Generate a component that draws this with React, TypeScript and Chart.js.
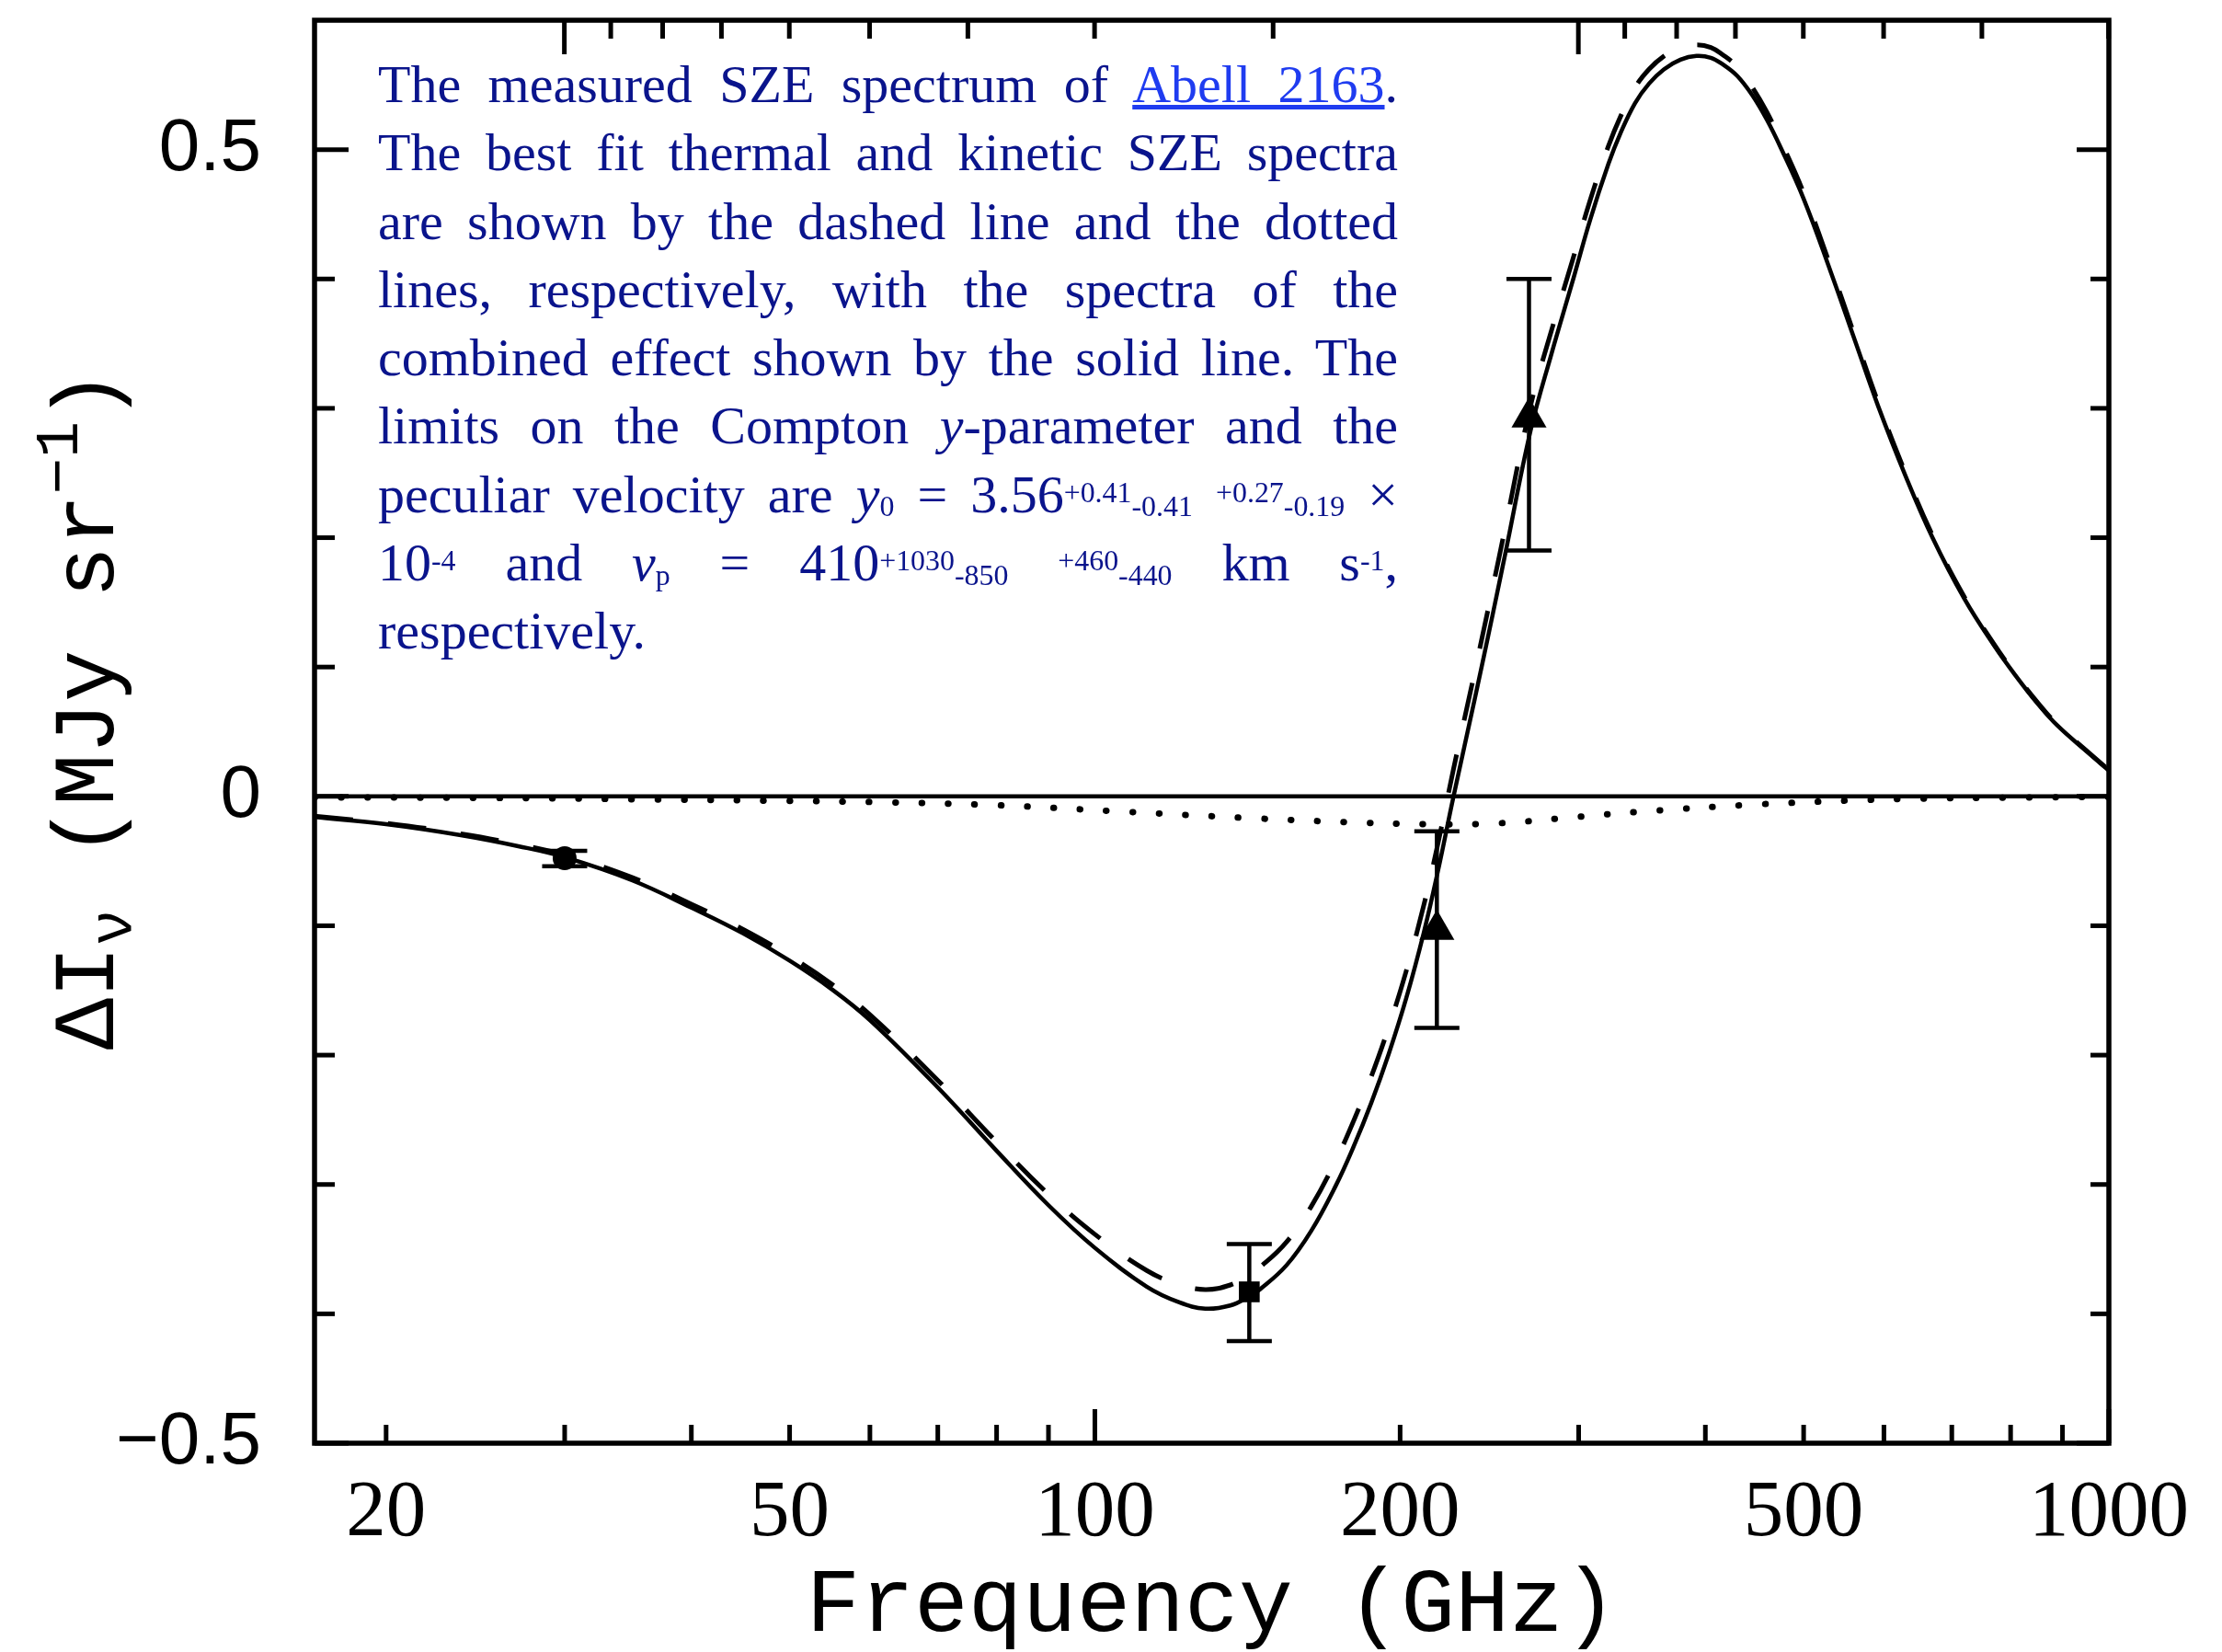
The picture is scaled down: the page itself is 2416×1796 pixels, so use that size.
import React, { useEffect, useRef } from 'react';
import { Chart, registerables } from 'chart.js';

Chart.register(...registerables);

// ---------- data ----------
// combined (thermal + kinetic) SZE spectrum, solid line
const combinedFreq = [17, 20, 23.7, 27, 30, 35, 40, 45, 50, 55, 60, 70, 80, 90, 100, 112.5, 121, 128.5, 136, 141.6, 145.5, 154.5, 163.4, 172.8, 179.9, 187.3, 194.9, 202.8, 211.1, 217.9, 225.8, 236.9, 247, 254, 269, 282, 295.6, 308, 321, 330, 341, 352, 364, 378, 392, 405, 416, 430, 445, 460, 475, 500, 532, 562, 592, 630, 670, 720, 770, 808, 850, 889, 950, 1000];
const combinedVal = [-0.016, -0.0215, -0.03, -0.0385, -0.047, -0.065, -0.086, -0.106, -0.127, -0.149, -0.173, -0.225, -0.274, -0.316, -0.349, -0.379, -0.391, -0.396, -0.3935, -0.387, -0.381, -0.3625, -0.336, -0.301, -0.271, -0.237, -0.199, -0.156, -0.105, -0.058, 0.0, 0.075, 0.142, 0.188, 0.283, 0.342, 0.397, 0.446, 0.489, 0.513, 0.536, 0.551, 0.562, 0.5695, 0.5724, 0.571, 0.566, 0.557, 0.542, 0.523, 0.501, 0.462, 0.405, 0.352, 0.302, 0.248, 0.2, 0.153, 0.117, 0.094, 0.072, 0.055, 0.035, 0.02];

// best-fit thermal SZE spectrum, dashed line
const thermalFreq = [17, 20, 23.7, 27, 30, 35, 40, 45, 50, 55, 60, 70, 80, 90, 100, 112.5, 121, 128.5, 136, 141.6, 145.5, 154.5, 163.4, 172.8, 179.9, 187.3, 194.9, 202.8, 211.1, 217.9, 225.8, 236.9, 247, 254, 269, 282, 295.6, 308, 321, 330, 341, 352, 364, 378, 392, 405, 416, 430, 445, 460, 475, 500, 532, 562, 592, 630, 670, 720, 770, 808, 850, 889, 950, 1000];
const thermalVal = [-0.0153, -0.0207, -0.0289, -0.0371, -0.0453, -0.0628, -0.0833, -0.1029, -0.1235, -0.1451, -0.1687, -0.2195, -0.2672, -0.3075, -0.3385, -0.3665, -0.3772, -0.3812, -0.3777, -0.3705, -0.364, -0.3445, -0.3172, -0.2815, -0.2511, -0.2167, -0.1783, -0.135, -0.0838, -0.0367, 0.0213, 0.0961, 0.1627, 0.2083, 0.3022, 0.36, 0.4135, 0.4612, 0.5028, 0.5258, 0.548, 0.5621, 0.5722, 0.5788, 0.5809, 0.579, 0.5734, 0.5641, 0.5482, 0.5289, 0.5062, 0.4665, 0.4088, 0.3552, 0.3047, 0.2501, 0.2017, 0.1543, 0.118, 0.0949, 0.0728, 0.0557, 0.0355, 0.0204];

// best-fit kinetic SZE spectrum, dotted line
const kineticFreq = [17, 25, 35, 50, 62, 80, 105, 140, 176, 215, 250, 297, 350, 438, 550, 647, 800, 1000];
const kineticVal = [-0.0007, -0.0012, -0.0022, -0.0035, -0.0045, -0.0068, -0.0115, -0.0165, -0.0198, -0.0215, -0.0208, -0.016, -0.0115, -0.0067, -0.0033, -0.0018, -0.0009, -0.0004];

// measured points with error bars
const dataFreq = [30, 142, 217.4, 268];
const dataVal = [-0.0478, -0.383, -0.103, 0.293];
const dataErrLow = [-0.054, -0.421, -0.179, 0.19];
const dataErrHigh = [-0.042, -0.346, -0.027, 0.4];
const dataMarker = ['circle', 'rect', 'triangle', 'triangle'];

// axes
const xMin = 17;
const xMax = 1000;
const yMin = -0.5;
const yMax = 0.6;
const xTickValues = [20, 50, 100, 200, 500, 1000];
const xTickLabels = ['20', '50', '100', '200', '500', '1000'];
const yTickValues = [-0.5, 0, 0.5];
const yTickLabels = ['\u22120.5', '0', '0.5'];
const xMinorTicks = [20, 30, 40, 50, 60, 70, 80, 90, 200, 300, 400, 500, 600, 700, 800, 900];
const xMajorTicks = [100, 1000];
const wavelengthTicksMm = [10, 9, 8, 7, 6, 5, 4, 3, 2, 1, 0.9, 0.8, 0.7, 0.6, 0.5, 0.4, 0.3];
const wavelengthMajorMm = [10, 1];
const yMinorTicks = [-0.4, -0.3, -0.2, -0.1, 0.1, 0.2, 0.3, 0.4];
const yMajorTicks = [-0.5, 0, 0.5];
const zeroLineFreq = [17, 1000];
const zeroLineVal = [0, 0];

const xTitle = 'Frequency (GHz)';
const yTitleParts = [
  { text: '\u0394I', small: false, shift: 0 },
  { text: '\u03bd', small: true, shift: 19 },
  { text: ' (MJy sr', small: false, shift: 0 },
  { text: '\u22121', small: true, shift: -39 },
  { text: ')', small: false, shift: 0 },
];

const C_MM_GHZ = 299.79;

const W = 2416;
const H = 1796;
const AREA_LEFT = 342;
const AREA_TOP = 12;
const AREA_RIGHT = 2293;
const AREA_BOTTOM = 1569;

const MONO = '"Liberation Mono", "DejaVu Sans Mono", monospace';
const SERIF = '"Liberation Serif", "Times New Roman", serif';

const toPoints = (xs: number[], ys: number[]) => xs.map((x, i) => ({ x, y: ys[i] }));

const decorPlugin = {
  id: 'decor',
  afterDatasetsDraw(chart: any) {
    const { ctx } = chart;
    const xs = chart.scales.x;
    const ys = chart.scales.y;
    ctx.save();
    ctx.strokeStyle = '#000';
    ctx.lineWidth = 4.5;
    const cap = 24.5;
    dataFreq.forEach((f, i) => {
      const px = xs.getPixelForValue(f);
      const lo = ys.getPixelForValue(dataErrLow[i]);
      const hi = ys.getPixelForValue(dataErrHigh[i]);
      ctx.beginPath();
      ctx.moveTo(px, lo);
      ctx.lineTo(px, hi);
      ctx.moveTo(px - cap, lo);
      ctx.lineTo(px + cap, lo);
      ctx.moveTo(px - cap, hi);
      ctx.lineTo(px + cap, hi);
      ctx.stroke();
    });
    ctx.restore();
  },
  afterDraw(chart: any) {
    const { ctx, chartArea: a } = chart;
    const xs = chart.scales.x;
    const ys = chart.scales.y;
    ctx.save();
    ctx.strokeStyle = '#000';
    ctx.lineCap = 'butt';
    ctx.lineWidth = 5;
    const seg = (x1: number, y1: number, x2: number, y2: number) => {
      ctx.beginPath();
      ctx.moveTo(x1, y1);
      ctx.lineTo(x2, y2);
      ctx.stroke();
    };
    xMinorTicks.forEach((v) => {
      const px = xs.getPixelForValue(v);
      seg(px, a.bottom, px, a.bottom - 20);
    });
    xMajorTicks.forEach((v) => {
      const px = xs.getPixelForValue(v);
      seg(px, a.bottom, px, a.bottom - 37);
    });
    wavelengthTicksMm.forEach((l) => {
      const f = C_MM_GHZ / l;
      if (f < xMin || f > xMax) return;
      const px = xs.getPixelForValue(f);
      const len = wavelengthMajorMm.includes(l) ? 37 : 20;
      seg(px, a.top, px, a.top + len);
    });
    yMinorTicks.forEach((v) => {
      const py = ys.getPixelForValue(v);
      seg(a.left, py, a.left + 22, py);
      seg(a.right, py, a.right - 20, py);
    });
    yMajorTicks.forEach((v) => {
      const py = ys.getPixelForValue(v);
      seg(a.left, py, a.left + 37, py);
      seg(a.right, py, a.right - 35, py);
    });
    ctx.lineWidth = 5.5;
    ctx.strokeRect(a.left, a.top, a.right - a.left, a.bottom - a.top);

    // y axis title with subscript / superscript
    const bigFont = `94px ${MONO}`;
    const smallFont = `66px ${MONO}`;
    ctx.translate(123, (a.top + a.bottom) / 2 - 24);
    ctx.rotate(-Math.PI / 2);
    ctx.fillStyle = '#000';
    ctx.textBaseline = 'alphabetic';
    ctx.textAlign = 'left';
    let total = 0;
    const widths = yTitleParts.map((p) => {
      ctx.font = p.small ? smallFont : bigFont;
      const w = ctx.measureText(p.text).width;
      total += w;
      return w;
    });
    let cx = -total / 2;
    yTitleParts.forEach((p, i) => {
      ctx.font = p.small ? smallFont : bigFont;
      ctx.fillText(p.text, cx, p.shift);
      cx += widths[i];
    });
    ctx.restore();
  },
};

const Sup = ({ children }: { children: React.ReactNode }) => (
  <span style={{ fontSize: '0.55em', position: 'relative', top: '-0.34em', lineHeight: 0 }}>{children}</span>
);
const Sub = ({ children }: { children: React.ReactNode }) => (
  <span style={{ fontSize: '0.55em', position: 'relative', top: '0.14em', lineHeight: 0 }}>{children}</span>
);

const lineStyle: React.CSSProperties = { textAlign: 'justify', textAlignLast: 'justify' as any };

function Caption() {
  return (
    <div
      style={{
        position: 'absolute',
        left: 411,
        top: 55,
        width: 1109,
        fontFamily: SERIF,
        fontSize: 58,
        lineHeight: '74.3px',
        color: '#0a148c',
      }}
    >
      <div style={lineStyle}>
        The measured SZE spectrum of{' '}
        <a href="#" style={{ color: '#1f3cf0', textDecoration: 'underline' }}>Abell 2163</a>.
      </div>
      <div style={lineStyle}>The best fit thermal and kinetic SZE spectra</div>
      <div style={lineStyle}>are shown by the dashed line and the dotted</div>
      <div style={lineStyle}>lines, respectively, with the spectra of the</div>
      <div style={lineStyle}>combined effect shown by the solid line. The</div>
      <div style={lineStyle}>limits on the Compton <i>y</i>-parameter and the</div>
      <div style={lineStyle}>
        peculiar velocity are <i>y</i><Sub>0</Sub> = 3.56<Sup>+0.41</Sup><Sub>-0.41</Sub>{' '}
        <Sup>+0.27</Sup><Sub>-0.19</Sub> {'\u00d7'}
      </div>
      <div style={lineStyle}>
        10<Sup>-4</Sup> and <i>v</i><Sub>p</Sub> = 410<Sup>+1030</Sup><Sub>-850</Sub>{' '}
        <Sup>+460</Sup><Sub>-440</Sub> km s<Sup>-1</Sup>,
      </div>
      <div style={{ textAlign: 'left' }}>respectively.</div>
    </div>
  );
}

export default function App() {
  const canvasRef = useRef<HTMLCanvasElement | null>(null);

  useEffect(() => {
    const canvas = canvasRef.current;
    if (!canvas) return;
    const chart = new Chart(canvas, {
      type: 'line',
      data: {
        datasets: [
          {
            label: 'Measured',
            data: toPoints(dataFreq, dataVal),
            showLine: false,
            pointStyle: dataMarker as any,
            pointRadius: [13, 16, 22, 22],
            pointHoverRadius: [13, 16, 22, 22],
            pointBackgroundColor: '#000',
            pointBorderColor: '#000',
            pointBorderWidth: 0,
            borderColor: '#000',
            backgroundColor: '#000',
          } as any,
          {
            label: 'Combined',
            data: toPoints(combinedFreq, combinedVal),
            borderColor: '#000',
            borderWidth: 4.5,
            pointRadius: 0,
            tension: 0.4,
            fill: false,
          },
          {
            label: 'Thermal',
            data: toPoints(thermalFreq, thermalVal),
            borderColor: '#000',
            borderWidth: 5,
            borderDash: [42, 38],
            pointRadius: 0,
            tension: 0.4,
            fill: false,
          },
          {
            label: 'Kinetic',
            data: toPoints(kineticFreq, kineticVal),
            borderColor: '#000',
            borderWidth: 7,
            borderDash: [0.5, 28.2],
            borderCapStyle: 'round',
            pointRadius: 0,
            tension: 0.4,
            fill: false,
          },
          {
            label: 'Zero',
            data: toPoints(zeroLineFreq, zeroLineVal),
            borderColor: '#000',
            borderWidth: 4.5,
            pointRadius: 0,
            fill: false,
          },
        ],
      },
      options: {
        responsive: false,
        animation: false,
        devicePixelRatio: 1,
        layout: { padding: { left: 0, top: AREA_TOP, right: W - AREA_RIGHT, bottom: 0 } },
        plugins: {
          legend: { display: false },
          tooltip: { enabled: false },
        },
        events: [],
        scales: {
          x: {
            type: 'logarithmic',
            min: xMin,
            max: xMax,
            position: 'bottom',
            grid: { display: false },
            border: { display: false },
            afterBuildTicks: (s: any) => {
              s.ticks = xTickValues.map((v) => ({ value: v }));
            },
            afterFit: (s: any) => {
              s.height = H - AREA_BOTTOM;
              s.paddingLeft = 0;
              s.paddingRight = 0;
              s.paddingTop = 0;
              s.paddingBottom = 0;
            },
            ticks: {
              autoSkip: false,
              maxRotation: 0,
              minRotation: 0,
              padding: 17,
              color: '#000',
              font: { family: SERIF, size: 87, lineHeight: 1.2 },
              callback: (v: any) => {
                const i = xTickValues.indexOf(Number(v));
                return i >= 0 ? xTickLabels[i] : '';
              },
            },
            title: {
              display: true,
              text: xTitle,
              color: '#000',
              font: { family: MONO, size: 98, lineHeight: 1 },
              padding: { top: 0, bottom: 0 },
            },
          } as any,
          y: {
            type: 'linear',
            min: yMin,
            max: yMax,
            grid: { display: false },
            border: { display: false },
            afterBuildTicks: (s: any) => {
              s.ticks = yTickValues.map((v) => ({ value: v }));
            },
            afterFit: (s: any) => {
              s.width = AREA_LEFT;
              s.paddingLeft = 0;
              s.paddingRight = 0;
              s.paddingTop = 0;
              s.paddingBottom = 0;
            },
            ticks: {
              padding: 50,
              color: '#000',
              font: { family: '"Liberation Sans", Arial, sans-serif', size: 80 },
              callback: (v: any) => {
                const i = yTickValues.indexOf(Number(v));
                return i >= 0 ? yTickLabels[i] : '';
              },
            },
          } as any,
        },
      },
      plugins: [decorPlugin],
    });
    return () => chart.destroy();
  }, []);

  return (
    <div style={{ position: 'absolute', left: 0, top: 0, width: W, height: H, background: '#fff' }}>
      <canvas ref={canvasRef} width={W} height={H} style={{ display: 'block', width: W, height: H }} />
      <Caption />
    </div>
  );
}
